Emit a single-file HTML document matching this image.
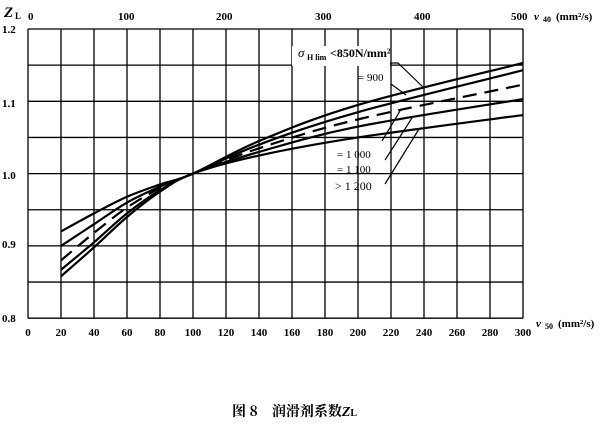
<!DOCTYPE html>
<html><head><meta charset="utf-8"><style>
html,body{margin:0;padding:0;background:#fff;}
svg{display:block;font-family:"Liberation Serif","Noto Serif CJK SC",serif;}
</style></head><body>
<svg id="s" width="610" height="427" viewBox="0 0 610 427" xmlns="http://www.w3.org/2000/svg">
<g id="grid" stroke="#000" stroke-width="1.3" fill="none"></g>
<g id="curves" stroke="#000" stroke-width="2.2" fill="none"></g>
<rect x="292" y="46" width="98" height="20" fill="#fff"/>
<g font-weight="bold" font-size="11" fill="#000">
<text x="4" y="17" font-size="15" font-style="italic">Z</text><text x="15" y="19" font-size="9">L</text>
<text x="2" y="33">1.2</text><text x="2" y="107">1.1</text><text x="2" y="179">1.0</text>
<text x="2" y="248">0.9</text><text x="2" y="322">0.8</text>
<text x="28" y="20">0</text><text x="118" y="20">100</text><text x="216" y="20">200</text>
<text x="315" y="20">300</text><text x="414" y="20">400</text><text x="511" y="20">500</text>
<text x="534" y="20" font-style="italic">ν</text><text x="543" y="22" font-size="8">40</text>
<text x="556" y="20">(mm²/s)</text>
<text x="536" y="327" font-style="italic">ν</text><text x="545" y="329" font-size="8">50</text>
<text x="558" y="327">(mm²/s)</text>
<text x="298" y="57" font-size="13" font-style="italic" font-weight="normal">σ</text>
<text x="307" y="60" font-size="8">H lim</text>
<text x="330" y="57" font-size="12">&lt;850N/mm²</text>
<text x="358" y="81" font-weight="normal">= 900</text>
<text x="337" y="158" font-weight="normal">=  1 000</text>
<text x="337" y="173" font-weight="normal">=  1 100</text>
<text x="335" y="190" font-weight="normal" font-size="12">&gt;  1 200</text>
<text x="232" y="416" font-size="14" font-family="'Noto Serif CJK SC','Liberation Serif',serif">图 8　润滑剂系数<tspan font-style="italic" font-family="'Liberation Serif',serif">Z</tspan><tspan font-size="10" font-family="'Liberation Serif',serif">L</tspan></text>
</g>
<g stroke="#000" stroke-width="1.2" fill="none">
<polyline points="390,63 398,63 424,88"/>
<line x1="391" y1="84" x2="406" y2="95"/>
<line x1="382" y1="141" x2="400" y2="111"/>
<line x1="385" y1="160" x2="412" y2="118"/>
<line x1="385" y1="184" x2="419" y2="129"/>
</g>
<g id="xl" font-weight="bold" font-size="11"></g>
</svg>
<script>
var ns="http://www.w3.org/2000/svg";
function X(v){return 28+v*1.65;}
function Y(z){return 29+(1.2-z)*723;}
function el(p,t,a){var e=document.createElementNS(ns,t);for(var k in a)e.setAttribute(k,a[k]);p.appendChild(e);return e;}
var g=document.getElementById('grid');
for(var i=0;i<=15;i++){var x=X(i*20);el(g,'line',{x1:x,y1:Y(1.2),x2:x,y2:Y(0.8)});}
for(var j=0;j<=8;j++){var y=Y(0.8+j*0.05);el(g,'line',{x1:X(0),y1:y,x2:X(300),y2:y});}
var xl=document.getElementById('xl');
for(var i=0;i<=15;i++){var t=el(xl,'text',{x:X(i*20),y:336,'text-anchor':'middle'});t.textContent=i*20;}
var xs=[20,40,60,80,100,140,200,300];
var cs=[[.920,.945,.968,.985,1,1.045,1.095,1.153],
[.900,.930,.960,.982,1,1.040,1.085,1.143],
[.880,.918,.953,.980,1,1.035,1.075,1.123],
[.867,.905,.945,.977,1,1.030,1.065,1.103],
[.858,.898,.940,.975,1,1.025,1.050,1.081]];
var cg=document.getElementById('curves');
cs.forEach(function(c,ci){
 var P=xs.map(function(v,i){return [X(v),Y(c[i])];});
 var d='M'+P[0][0]+','+P[0][1];
 for(var i=0;i<P.length-1;i++){
  var p0=P[Math.max(0,i-1)],p1=P[i],p2=P[i+1],p3=P[Math.min(P.length-1,i+2)];
  var c1=[p1[0]+(p2[0]-p0[0])/6,p1[1]+(p2[1]-p0[1])/6];
  var c2=[p2[0]-(p3[0]-p1[0])/6,p2[1]-(p3[1]-p1[1])/6];
  d+=' C'+c1+' '+c2+' '+p2;
 }
 var a={d:d};
 if(ci==2){a['stroke-dasharray']='14,8';}
 el(cg,'path',a);
});
</script>
</body></html>
